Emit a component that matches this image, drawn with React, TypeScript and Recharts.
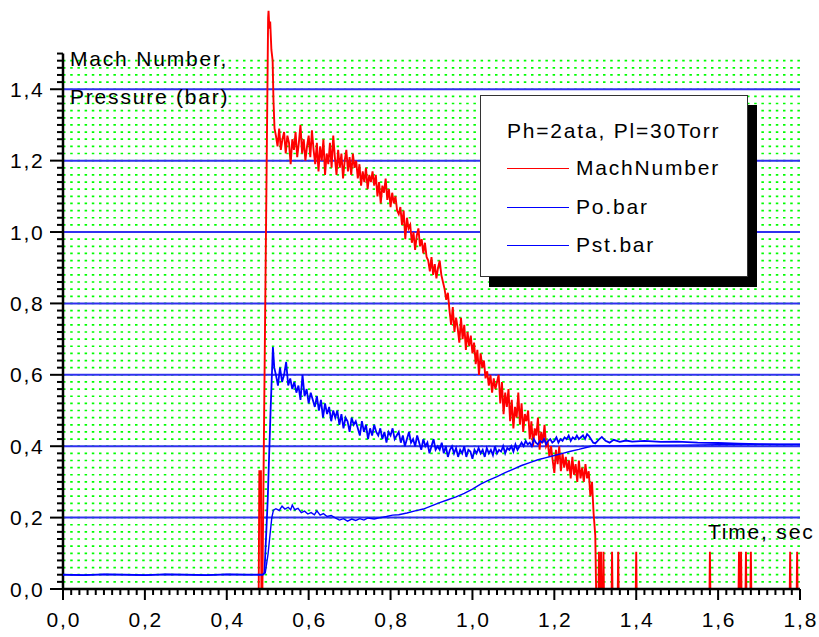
import { LineChart, Line, XAxis, YAxis, CartesianGrid, Legend, ReferenceLine } from 'recharts';

const FONT = "'Liberation Sans', Arial, sans-serif";
const Y_MAX = 1.65;

// axis ticks / labels
const X_MAJOR = [0, 0.2, 0.4, 0.6, 0.8, 1.0, 1.2, 1.4, 1.6, 1.8];
const X_LABELS = ['0,0', '0,2', '0,4', '0,6', '0,8', '1,0', '1,2', '1,4', '1,6', '1,8'];
const Y_MAJOR = [0, 0.2, 0.4, 0.6, 0.8, 1.0, 1.2, 1.4];
const Y_LABELS = ['0,0', '0,2', '0,4', '0,6', '0,8', '1,0', '1,2', '1,4'];
const MINOR_STEP = 0.02;
const X_TICKS = Array.from({ length: 91 }, (_, i) => +(i * MINOR_STEP).toFixed(2));
const Y_TICKS = Array.from({ length: 76 }, (_, i) => +(i * MINOR_STEP).toFixed(2));
const GREEN_LINES = Y_TICKS.filter((v) => v > 0 && v < 1.5);
const BLUE_LINES = [0.2, 0.4, 0.6, 0.8, 1.0, 1.2, 1.4];

// MachNumber
const MACH_HEAD = [
  [0.478, 0], [0.4795, 0.33], [0.4835, 0.33], [0.4845, 0], [0.487, 0], [0.501, 1.6], [0.502, 1.62],
  [0.504, 1.57], [0.506, 1.59], [0.509, 1.51], [0.512, 1.48], [0.514, 1.37], [0.5166, 1.29],
];
const MACH_T0 = 0.52;
const MACH_DT = 0.004;
const MACH_BODY = [
  1.27, 1.24, 1.29, 1.23, 1.26, 1.28, 1.22, 1.27, 1.25,
  1.19, 1.26, 1.23, 1.28, 1.21, 1.25,
  1.3, 1.22, 1.26, 1.2, 1.24, 1.27, 1.21,
  1.285, 1.23, 1.19, 1.25,
  1.17, 1.24, 1.2, 1.26, 1.16, 1.22, 1.19, 1.25, 1.18, 1.27,
  1.21, 1.16, 1.23, 1.18, 1.22, 1.15, 1.2, 1.23, 1.17, 1.21, 1.16, 1.22, 1.18, 1.2,
  1.15, 1.19, 1.13, 1.17, 1.14, 1.18, 1.12, 1.16, 1.14, 1.17,
  1.13, 1.16, 1.1, 1.14, 1.08, 1.13, 1.11, 1.15, 1.09, 1.12, 1.07, 1.11, 1.08, 1.1, 1.06,
  1.05, 1.07, 1.02, 1.06, 0.98, 1.04, 1.01,
  1.02, 0.97, 1.0, 0.95, 0.99, 1.01, 0.96, 0.98, 0.94, 0.97, 0.93,
  0.92, 0.89, 0.93, 0.88, 0.91, 0.87, 0.9, 0.92, 0.88, 0.86,
  0.84, 0.81, 0.83,
  0.78, 0.74, 0.79, 0.72, 0.76,
  0.73, 0.69, 0.76, 0.7, 0.74, 0.67, 0.72, 0.68, 0.71, 0.66,
  0.69, 0.63, 0.67, 0.6, 0.66, 0.62, 0.64, 0.59,
  0.61, 0.57, 0.6, 0.55, 0.59, 0.56, 0.58,
  0.6, 0.52, 0.58, 0.49, 0.55, 0.51,
  0.56, 0.47, 0.53, 0.45, 0.51, 0.48, 0.55, 0.46, 0.52, 0.44, 0.49, 0.47,
  0.5, 0.42, 0.47, 0.4, 0.45, 0.43, 0.48, 0.39, 0.44, 0.41, 0.46, 0.4,
  0.41, 0.37, 0.4, 0.36, 0.325, 0.39,
  0.35, 0.4, 0.33, 0.38, 0.34, 0.37,
  0.33, 0.36, 0.31, 0.37, 0.32, 0.35,
  0.3, 0.36, 0.31, 0.34, 0.3, 0.35, 0.31, 0.33,
  0.26, 0.3, 0.21, 0.15,
];
const MACH_DROP = [[1.302, 0]];
const MACH_SPIKE_T = [1.309, 1.314, 1.32, 1.341, 1.356, 1.4, 1.58, 1.651, 1.656, 1.668, 1.68, 1.776, 1.793];
const MACH_SPIKE_V = 0.104;

// pressures, common vacuum level before the shock
const BASE = [
  [0, 0.04], [0.05, 0.039], [0.1, 0.041], [0.15, 0.04], [0.2, 0.039], [0.25, 0.041],
  [0.3, 0.04], [0.35, 0.039], [0.4, 0.041], [0.45, 0.04], [0.488, 0.04],
];

// Po.bar
const PO_RISE = [[0.492, 0.045], [0.5, 0.25], [0.507, 0.5], [0.5127, 0.678], [0.516, 0.62]];
const PO_T0 = 0.52;
const PO_DT = 0.005;
const PO_BODY = [
  0.6, 0.57, 0.62, 0.58, 0.6, 0.636, 0.57, 0.59, 0.56, 0.58,
  0.55, 0.57, 0.53, 0.6, 0.54, 0.56, 0.52, 0.55, 0.53, 0.51,
  0.54, 0.5, 0.53, 0.48, 0.52, 0.49, 0.51, 0.47, 0.5, 0.48,
  0.5, 0.46, 0.49, 0.45, 0.48, 0.47, 0.44, 0.48, 0.46, 0.47,
  0.45, 0.43, 0.47, 0.44, 0.46, 0.42, 0.45, 0.43, 0.46, 0.44,
  0.43, 0.45, 0.42, 0.44, 0.41, 0.44, 0.43, 0.45, 0.42, 0.43,
  0.44, 0.41, 0.43, 0.4, 0.42, 0.44, 0.41, 0.42, 0.4, 0.43,
  0.41, 0.39, 0.42, 0.4, 0.41, 0.38, 0.4, 0.42, 0.39, 0.4,
  0.39, 0.41, 0.38, 0.4, 0.37, 0.39, 0.4, 0.38, 0.395, 0.37,
  0.39, 0.38, 0.4, 0.37, 0.39, 0.385, 0.365, 0.39, 0.38, 0.395,
  0.38, 0.39, 0.37, 0.395, 0.38, 0.39, 0.375, 0.4, 0.38, 0.39,
  0.385, 0.4, 0.38, 0.395, 0.39, 0.4, 0.385, 0.405, 0.39, 0.4,
  0.41, 0.4, 0.415, 0.405, 0.41, 0.4, 0.42, 0.41, 0.405, 0.415,
  0.41, 0.42, 0.405, 0.415, 0.42, 0.41, 0.415, 0.425, 0.41, 0.42,
  0.415, 0.425, 0.42, 0.43, 0.415, 0.425, 0.42, 0.43, 0.42, 0.425,
  0.43, 0.42, 0.434, 0.428,
];
const PO_TAIL = [
  [1.295, 0.41], [1.3, 0.408], [1.308, 0.418], [1.316, 0.426], [1.325, 0.415], [1.335, 0.41],
  [1.345, 0.418], [1.36, 0.412], [1.375, 0.416], [1.39, 0.413], [1.42, 0.415], [1.46, 0.412],
  [1.5, 0.413], [1.55, 0.41], [1.6, 0.409], [1.65, 0.407], [1.7, 0.406], [1.75, 0.405], [1.8, 0.405],
];

// Pst.bar
const PST_CURVE = [
  [0.494, 0.045], [0.501, 0.1], [0.506, 0.157], [0.51, 0.2], [0.514, 0.221], [0.52, 0.225],
  [0.528, 0.22], [0.535, 0.232], [0.542, 0.224], [0.55, 0.229], [0.556, 0.222], [0.56, 0.235],
  [0.566, 0.222], [0.574, 0.226], [0.582, 0.214], [0.59, 0.218], [0.598, 0.21], [0.606, 0.214],
  [0.614, 0.208], [0.62, 0.219], [0.628, 0.207], [0.636, 0.211], [0.645, 0.203], [0.655, 0.206],
  [0.665, 0.199], [0.675, 0.193], [0.685, 0.197], [0.695, 0.19], [0.705, 0.196], [0.715, 0.192],
  [0.725, 0.197], [0.735, 0.193], [0.745, 0.199], [0.76, 0.196], [0.775, 0.2], [0.79, 0.203],
  [0.805, 0.207], [0.82, 0.208], [0.84, 0.213], [0.86, 0.219], [0.88, 0.224], [0.9, 0.233],
  [0.92, 0.242], [0.94, 0.25], [0.96, 0.258], [0.98, 0.268], [1.0, 0.28], [1.02, 0.294],
  [1.04, 0.305], [1.06, 0.315], [1.08, 0.326], [1.1, 0.336], [1.12, 0.346], [1.14, 0.354],
  [1.16, 0.362], [1.18, 0.368], [1.2, 0.374], [1.22, 0.38], [1.24, 0.386], [1.26, 0.391],
  [1.28, 0.397], [1.295, 0.401], [1.35, 0.401], [1.4, 0.402], [1.5, 0.403], [1.6, 0.404],
  [1.7, 0.405], [1.8, 0.405],
];

const pts = (pairs: number[][]) => pairs.map(([t, v]) => ({ t, v }));
const grid = (t0: number, dt: number, vals: number[]) => vals.map((v, i) => ({ t: +(t0 + i * dt).toFixed(4), v }));

const machData = [
  ...pts(MACH_HEAD),
  ...grid(MACH_T0, MACH_DT, MACH_BODY),
  ...pts(MACH_DROP),
  { t: 1.3025, v: null },
  ...MACH_SPIKE_T.flatMap((t) => [
    { t: t - 0.001, v: 0 },
    { t, v: MACH_SPIKE_V },
    { t: t + 0.001, v: 0 },
    { t: t + 0.0015, v: null },
  ]),
];
const poData = [...pts(BASE), ...pts(PO_RISE), ...grid(PO_T0, PO_DT, PO_BODY), ...pts(PO_TAIL)];
const pstData = [...pts(BASE), ...pts(PST_CURVE)];

const isMajor = (v: number) => Math.round(v * 100) % 20 === 0;
const labelOf = (v: number, majors: number[], labels: string[]) => {
  const i = majors.findIndex((m) => Math.abs(m - v) < 1e-6);
  return i >= 0 ? labels[i] : null;
};

function XTick({ x, y, payload }: any) {
  const v = payload.value;
  const major = isMajor(v);
  const label = major ? labelOf(v, X_MAJOR, X_LABELS) : null;
  return (
    <g>
      <line x1={x} x2={x} y1={y} y2={y + (major ? 11 : 6)} stroke="#000" strokeWidth={2} />
      {label && (
        <text x={x + 0.9} y={y + 38} textAnchor="middle" fontFamily={FONT} fontSize={21} letterSpacing={1.8} fill="#000">
          {label}
        </text>
      )}
    </g>
  );
}

function YTick({ x, y, payload }: any) {
  const v = payload.value;
  const major = isMajor(v);
  const label = major ? labelOf(v, Y_MAJOR, Y_LABELS) : null;
  return (
    <g>
      <line x1={x} x2={x - (major ? 13 : 6)} y1={y} y2={y} stroke="#000" strokeWidth={2} />
      {label && (
        <text x={x - 18.5} y={y} dy="0.36em" textAnchor="end" fontFamily={FONT} fontSize={21} letterSpacing={1.8} fill="#000">
          {label}
        </text>
      )}
    </g>
  );
}

const ROW_Y = [72, 111, 149];

function LegendBox({ payload }: any) {
  return (
    <div
      style={{
        position: 'relative',
        width: 268,
        height: 182,
        boxSizing: 'border-box',
        background: '#fff',
        border: '1px solid #333',
        boxShadow: '9px 10px 0 #000',
        fontFamily: FONT,
        fontSize: 21,
        letterSpacing: 1.8,
        color: '#000',
      }}
    >
      <div style={{ position: 'absolute', left: 26, top: 23, lineHeight: '24px', whiteSpace: 'nowrap' }}>
        Ph=2ata, Pl=30Torr
      </div>
      {(payload || []).map((p: any, i: number) => (
        <div
          key={p.value}
          style={{ position: 'absolute', left: 26, top: ROW_Y[i] - 12, height: 24, display: 'flex', alignItems: 'center' }}
        >
          <span style={{ width: 62, height: 0, borderTop: `1.5px solid ${p.color}` }} />
          <span style={{ marginLeft: 7, lineHeight: '24px', whiteSpace: 'nowrap' }}>{p.value}</span>
        </div>
      ))}
    </div>
  );
}

const toPx = (axis: any, offset: any, v: number) => {
  const s = axis?.scale;
  if (typeof s === 'function') return s(v);
  if (s && typeof s.map === 'function') return s.map(v);
  return offset.top + offset.height * (1 - v / Y_MAX);
};

export default function App() {
  return (
    <div style={{ position: 'absolute', left: 0, top: 0, width: 819, height: 637, background: '#fff' }}>
      <LineChart width={819} height={637} margin={{ top: 0, right: 19, bottom: 0, left: 0 }}>
        <CartesianGrid
          vertical={false}
          stroke="#00ff00"
          strokeWidth={1.7}
          strokeDasharray="2.5 4.7"
          horizontalCoordinatesGenerator={({ yAxis, offset }: any) => GREEN_LINES.map((v) => toPx(yAxis, offset, v))}
        />
        <CartesianGrid
          vertical={false}
          stroke="#3030f0"
          strokeWidth={2}
          horizontalCoordinatesGenerator={({ yAxis, offset }: any) => BLUE_LINES.map((v) => toPx(yAxis, offset, v))}
        />
        <XAxis
          type="number"
          dataKey="t"
          domain={[0, 1.8]}
          ticks={X_TICKS}
          interval={0}
          tickSize={0}
          tickMargin={0}
          tick={(p: any) => <XTick {...p} />}
          axisLine={{ stroke: '#000', strokeWidth: 2.5 }}
          height={48}
          allowDataOverflow
        />
        <YAxis
          type="number"
          domain={[0, Y_MAX]}
          ticks={Y_TICKS}
          interval={0}
          tickSize={0}
          tickMargin={0}
          tick={(p: any) => <YTick {...p} />}
          axisLine={false}
          width={63}
          allowDataOverflow
        />
        <ReferenceLine segment={[{ x: 0, y: 0 }, { x: 0, y: 1.5 }]} stroke="#000" strokeWidth={2.5} />
        <Line
          name="MachNumber"
          data={machData}
          dataKey="v"
          type="linear"
          stroke="#ff0000"
          strokeWidth={1.9}
          dot={false}
          activeDot={false}
          isAnimationActive={false}
        />
        <Line
          name="Po.bar"
          data={poData}
          dataKey="v"
          type="linear"
          stroke="#0000ff"
          strokeWidth={1.8}
          dot={false}
          activeDot={false}
          isAnimationActive={false}
        />
        <Line
          name="Pst.bar"
          data={pstData}
          dataKey="v"
          type="linear"
          stroke="#0000ff"
          strokeWidth={1.4}
          dot={false}
          activeDot={false}
          isAnimationActive={false}
        />
        <Legend
          layout="vertical"
          align="center"
          verticalAlign="middle"
          content={(p: any) => <LegendBox {...p} />}
          wrapperStyle={{ left: 480, top: 95, width: 'auto' }}
        />
      </LineChart>
      <svg
        width={819}
        height={637}
        style={{ position: 'absolute', left: 0, top: 0, pointerEvents: 'none' }}
        fontFamily={FONT}
        fontSize={21}
        letterSpacing={1.8}
      >
        <text x={70} y={66} fill="#000">Mach Number,</text>
        <text x={70} y={104} fill="#000">Pressure (bar)</text>
        <text x={708} y={539} fill="#000">Time, sec</text>
      </svg>
    </div>
  );
}
